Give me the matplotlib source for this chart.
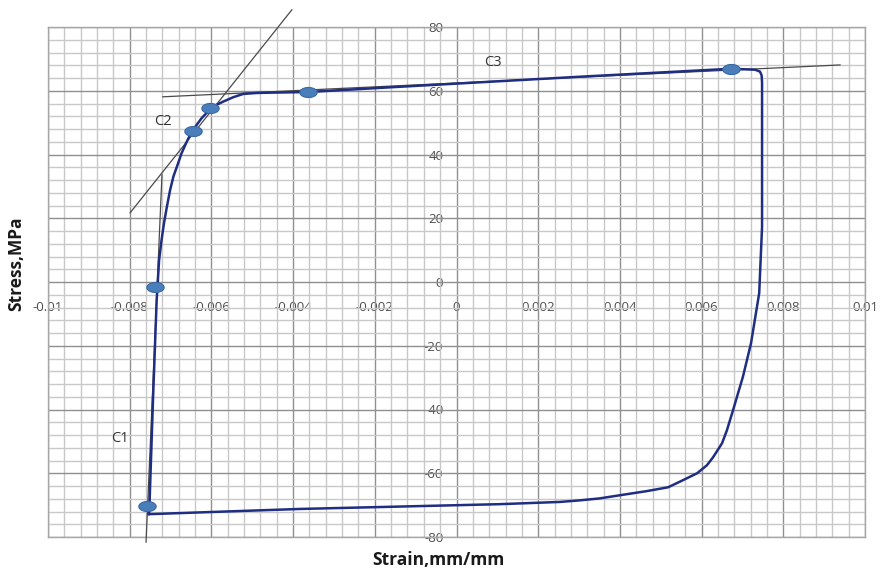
import numpy as np
import matplotlib
matplotlib.use("Agg")
import matplotlib.pyplot as plt
from matplotlib.path import Path
from matplotlib.ticker import MultipleLocator

# ---------------- data ----------------
loop_strain = [-0.00753, -0.00752, -0.00743, -0.00734, -0.00731, -0.00728, -0.00722,
               -0.00716, -0.00709, -0.00701, -0.00693, -0.00683, -0.00673, -0.00660,
               -0.00648, -0.00636, -0.00624, -0.00603, -0.00587, -0.00571, -0.00546,
               -0.00522, -0.00489, -0.00457, -0.00363, -0.00187, 0.00302, 0.00672,
               0.00731, 0.00743, 0.00747, 0.00748, 0.00748, 0.00741, 0.00721,
               0.00701, 0.00677, 0.00662, 0.00650, 0.00628, 0.00613, 0.00589,
               0.00554, 0.00518, 0.00466, 0.00400, 0.00350, 0.00302, 0.00253,
               0.00106, -0.00383, -0.00745, -0.00753]
loop_stress = [-72.8, -71.6, -37.0, -5.7, 0.6, 6.9, 13.2,
               18.5, 23.6, 28.9, 33.1, 36.7, 40.4, 44.1,
               47.2, 49.3, 51.4, 54.2, 55.6, 56.6, 58.0,
               59.0, 59.3, 59.4, 59.6, 60.9, 64.4, 66.9,
               66.6, 66.0, 64.8, 62.5, 17.3, -3.5, -19.2,
               -29.8, -40.2, -46.5, -50.6, -55.0, -57.5, -60.0,
               -62.2, -64.4, -65.6, -66.9, -67.9, -68.5, -69.0,
               -69.7, -71.2, -72.8, -72.8]

point_strain = [-0.00758, -0.00739, -0.00644, -0.00603, -0.00363, 0.00672]
point_stress = [-70.3, -1.6, 47.4, 54.5, 59.6, 66.9]

c1_strain = [-0.00760, -0.00721]
c1_stress = [-81.6, 33.6]
c2_strain = [-0.00799, -0.00403]
c2_stress = [21.7, 85.4]
c3_strain = [-0.00719, 0.00939]
c3_stress = [58.1, 68.1]

labels = ["C1", "C2", "C3"]
label_strain = [-0.00823, -0.00719, 0.00090]
label_stress = [-49.0, 50.2, 68.8]

x_ticks = [-0.01, -0.008, -0.006, -0.004, -0.002, 0, 0.002, 0.004, 0.006, 0.008, 0.01]
x_ticklabels = ["-0.01", "-0.008", "-0.006", "-0.004", "-0.002", "0",
                "0.002", "0.004", "0.006", "0.008", "0.01"]
y_ticks = [80, 60, 40, 20, 0, -20, -40, -60, -80]
y_ticklabels = ["80", "60", "40", "20", "0", "-20", "-40", "-60", "-80"]

# ---------------- figure ----------------
plt.rcParams['font.family'] = ['Open Sans', 'DejaVu Sans']
fig = plt.figure(figsize=(8.8, 5.71), dpi=100)
ax = fig.add_axes([48/880, 1-537/571, 817/880, 510/571])
ax.set_xlim(-0.01, 0.01)
ax.set_ylim(-80, 80)

ax.xaxis.set_major_locator(MultipleLocator(0.002))
ax.xaxis.set_minor_locator(MultipleLocator(0.0004))
ax.yaxis.set_major_locator(MultipleLocator(20))
ax.yaxis.set_minor_locator(MultipleLocator(4))
ax.grid(which='minor', color='#c8c8c8', linewidth=1.0)
ax.grid(which='major', color='#8f8f8f', linewidth=1.0)
ax.set_axisbelow(True)
ax.tick_params(which='both', length=0, labelbottom=False, labelleft=False)
for s in ax.spines.values():
    s.set_color('#a6a6a6')
    s.set_linewidth(1.0)

# tick labels along the zero axes
sx = ax.secondary_xaxis(0.5)
sx.set_alignment('bottom')
sx.set_xticks(x_ticks, x_ticklabels)
sx.tick_params(length=0, pad=13.5, labelsize=9.5, labelcolor='#4d4d4d')
for s in sx.spines.values():
    s.set_visible(False)

sy = ax.secondary_yaxis(0.5)
sy.set_alignment('left')
sy.set_yticks(y_ticks, y_ticklabels)
sy.tick_params(length=0, pad=9.5, labelsize=9.5, labelcolor='#4d4d4d')
for s in sy.spines.values():
    s.set_visible(False)

# tangent lines
for xs, ys in [(c1_strain, c1_stress), (c2_strain, c2_stress), (c3_strain, c3_stress)]:
    ax.plot(xs, ys, color='#4a4a4a', linewidth=0.9, clip_on=False, zorder=3)

# hysteresis loop
ax.plot(loop_strain, loop_stress, color='#1f2d82', linewidth=1.8,
        solid_joinstyle='round', zorder=4)

# elliptical markers
t = np.linspace(0, 2*np.pi, 60)
ell = Path(np.column_stack([np.cos(t), 0.58*np.sin(t)]), closed=True)
ax.plot(point_strain, point_stress, linestyle='none', marker=ell, markersize=12.5,
        markerfacecolor='#4a7ebb', markeredgecolor='#3a68a0', markeredgewidth=0.8,
        zorder=5)

for lab, xv, yv in zip(labels, label_strain, label_stress):
    ax.text(xv, yv, lab, fontsize=10.5, color='#333333', ha='center', va='center', zorder=6)

fig.text(16/880, 1-264/571, "Stress,MPa", rotation=90, fontsize=12.5, fontweight='bold',
         color='#1a1a1a', ha='center', va='center')
fig.text(438/880, 1-560/571, "Strain,mm/mm", fontsize=12.5, fontweight='bold',
         color='#1a1a1a', ha='center', va='center')

fig.savefig("out.png", dpi=100)
